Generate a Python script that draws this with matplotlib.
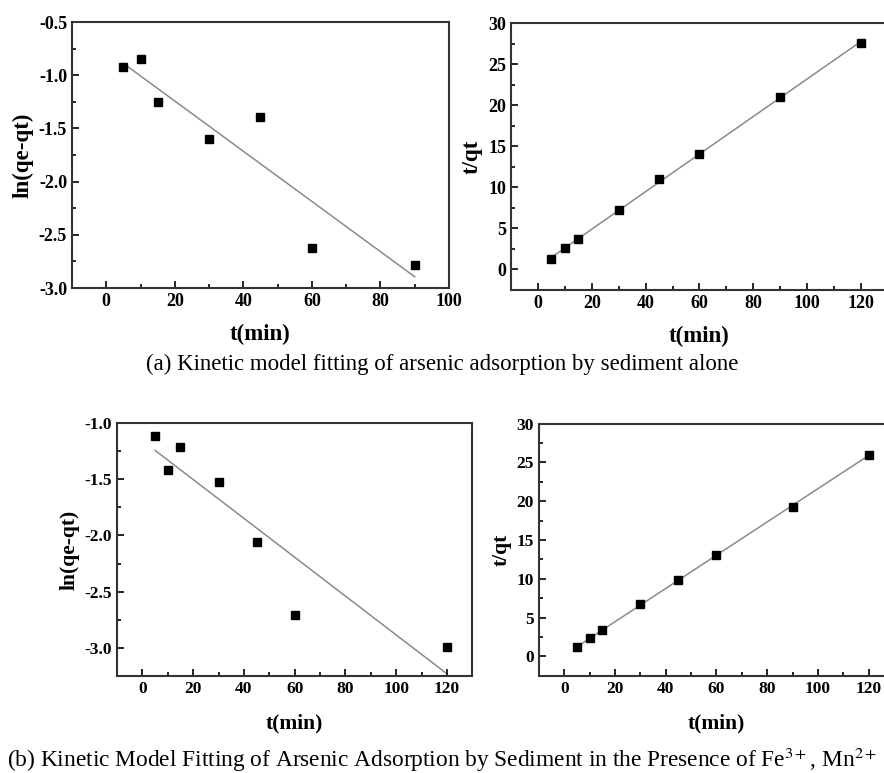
import matplotlib
matplotlib.use("Agg")
import matplotlib.pyplot as plt
import numpy as np
from matplotlib.ticker import MultipleLocator

plt.rcParams["font.family"] = ["Liberation Serif", "DejaVu Serif"]
plt.rcParams["mathtext.fontset"] = "stix"

# (a) sediment alone
t_a1 = [5, 10, 15, 30, 45, 60, 90]
ln_a = [-0.92, -0.85, -1.25, -1.60, -1.39, -2.62, -2.78]
t_a2 = [5, 10, 15, 30, 45, 60, 90, 120]
tq_a = [1.3, 2.6, 3.7, 7.2, 11.0, 14.0, 21.0, 27.6]

# (b) with Fe3+, Mn2+
t_b1 = [5, 10, 15, 30, 45, 60, 120]
ln_b = [-1.11, -1.42, -1.21, -1.52, -2.06, -2.71, -2.99]
t_b2 = [5, 10, 15, 30, 45, 60, 90, 120]
tq_b = [1.2, 2.3, 3.4, 6.7, 9.9, 13.0, 19.3, 26.0]


def panel(ax, x, y, xlim, ylim, ymaj, ymin, ylabel, fs_tick, fs_lab, xpad):
    x = np.array(x, dtype=float)
    y = np.array(y, dtype=float)
    k, b = np.polyfit(x, y, 1)
    xs = np.array([x.min(), x.max()])
    ax.plot(xs, k * xs + b, color="#8a8a8a", lw=1.1, zorder=1)
    ax.plot(x, y, "s", color="black", ms=5.5, zorder=2)
    ax.set_xlim(*xlim)
    ax.set_ylim(*ylim)
    ax.xaxis.set_major_locator(MultipleLocator(20))
    ax.xaxis.set_minor_locator(MultipleLocator(10))
    ax.yaxis.set_major_locator(MultipleLocator(ymaj))
    ax.yaxis.set_minor_locator(MultipleLocator(ymin))
    ax.tick_params(which="both", direction="in", top=False, right=False, width=1.2)
    ax.tick_params(which="major", length=5, labelsize=fs_tick)
    ax.tick_params(which="minor", length=3)
    for s in ax.spines.values():
        s.set_linewidth(1.5)
        s.set_color("#333333")
    ax.set_xlabel("t(min)", fontsize=fs_lab, fontweight="bold", labelpad=xpad)
    ax.set_ylabel(ylabel, fontsize=fs_lab, fontweight="bold", labelpad=4)


fig = plt.figure(figsize=(8.84, 7.73), dpi=100)

ax1 = fig.add_axes([0.0814, 0.6274, 0.4265, 0.3441])
panel(ax1, t_a1, ln_a, (-10, 100), (-3.0, -0.5), 0.5, 0.25, "ln(qe-qt)", 13, 16.5, 10)
ax1.yaxis.set_major_formatter(plt.FuncFormatter(lambda v, p: f"{v:.1f}"))

ax2 = fig.add_axes([0.578, 0.6248, 0.4265, 0.3454])
panel(ax2, t_a2, tq_a, (-10, 130), (-2.5, 30), 5, 2.5, "t/qt", 13, 16.5, 10)

ax3 = fig.add_axes([0.1324, 0.1259, 0.4019, 0.3265])
panel(ax3, t_b1, ln_b, (-10, 130), (-3.25, -1.0), 0.5, 0.25, "ln(qe-qt)", 12.5, 15.5, 12)
ax3.yaxis.set_major_formatter(plt.FuncFormatter(lambda v, p: f"{v:.1f}"))

ax4 = fig.add_axes([0.6097, 0.1259, 0.4016, 0.326])
panel(ax4, t_b2, tq_b, (-10, 130), (-2.5, 30), 5, 2.5, "t/qt", 12.5, 15.5, 12)

for ax in (ax1, ax2, ax3, ax4):
    for lab in ax.get_xticklabels() + ax.get_yticklabels():
        lab.set_fontweight("bold")

fig.text(0.5, 1 - 364 / 773, "(a) Kinetic model fitting of arsenic adsorption by sediment alone",
         ha="center", va="center", fontsize=16.5)
fig.text(0.5, 1 - 760 / 773,
         "(b) Kinetic Model Fitting of Arsenic Adsorption by Sediment in the Presence of Fe$^{3+}$, Mn$^{2+}$",
         ha="center", va="center", fontsize=16.8)

fig.savefig("out.png", dpi=100)
